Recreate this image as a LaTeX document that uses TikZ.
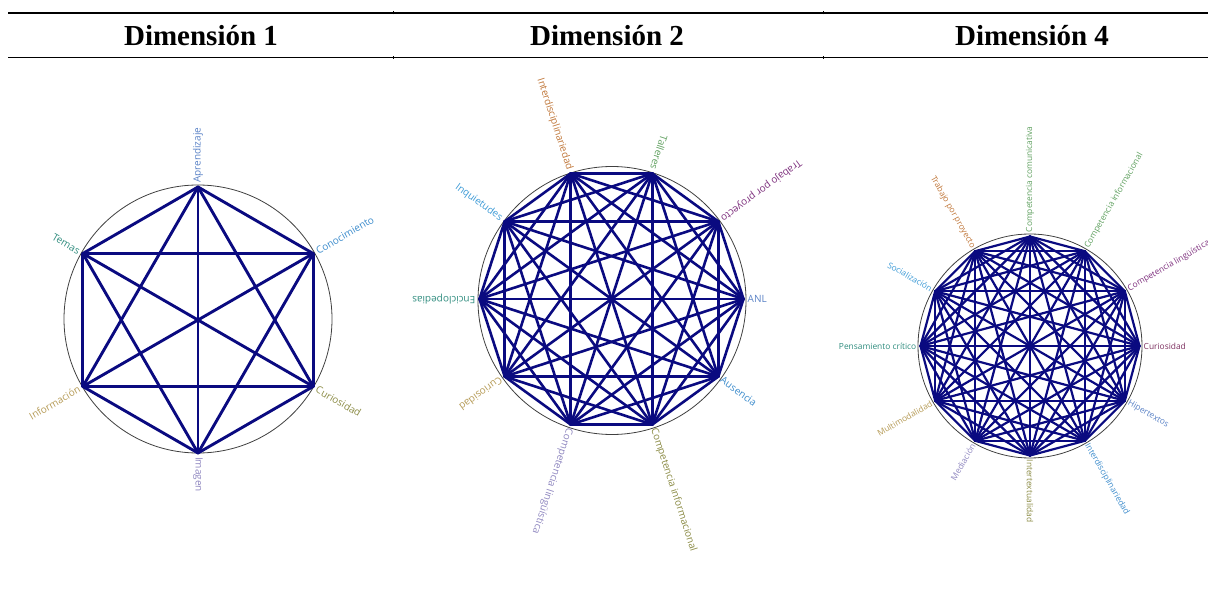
\documentclass[tikz,border=0pt]{standalone}
\usepackage{fontspec}
\setmainfont{Liberation Serif}
\newfontfamily\labelfont{Open Sans}

\definecolor{navyline}{RGB}{10,10,128}
\definecolor{cteal}{HTML}{2F8C7E}
\definecolor{csky}{HTML}{3C9AD6}
\definecolor{corange}{HTML}{C0773A}
\definecolor{cgreen}{HTML}{5FA05F}
\definecolor{cpurple}{HTML}{7D2F7D}
\definecolor{cmaroon}{HTML}{7D3060}
\definecolor{cblue}{HTML}{5A82C6}
\definecolor{cazure}{HTML}{3D8CCC}
\definecolor{colive}{HTML}{8B8B45}
\definecolor{clavender}{HTML}{8E86BF}
\definecolor{ctan}{HTML}{B59A55}

\tikzset{
    graphline/.style={navyline, line width=#1, line cap=round},
    ring/.style={black!75, line width=0.8pt},
    vlabel/.style={font=\labelfont\fontsize{#1}{12}\selectfont, inner sep=4pt},
    dimtitle/.style={font=\bfseries\fontsize{29}{34}\selectfont, anchor=base},
    rule/.style={line width=1.2pt}
}

\begin{document}
\begin{tikzpicture}[x=1pt,y=1pt]
    \useasboundingbox (0,0) rectangle (1208,606);

    % Encabezado
    \draw[rule] (8,593) -- (1208,593);
    \draw[rule] (8,548.5) -- (1208,548.5);
    \foreach \x in {393.5,823.5} {
        \draw[line width=1.5pt] (\x,591.5) -- (\x,594.5);
        \draw[line width=1.5pt] (\x,547) -- (\x,550);
    }
    \node[dimtitle] (t1) at (201,560.5) {Dimensión 1};
    \node[dimtitle] (t2) at (607,560.5) {Dimensión 2};
    \node[dimtitle] (t4) at (1032,560.5) {Dimensión 4};

    % Dimension 1
    \begin{scope}[shift={(198,286)}]
        \draw[ring] (0,1) circle (134);
        \foreach \i in {1,...,6}
            \coordinate (a\i) at ({90-60*(\i-1)}:133);
        \foreach \i in {1,...,5} {
            \pgfmathtruncatemacro\k{\i+1}
            \foreach \j in {\k,...,6}
                \draw[graphline=2.9pt] (a\i) -- (a\j);
        }
        \foreach \i/\rot/\anc/\col/\txt in {
            1/90/west/cblue/Aprendizaje,
            2/30/west/cazure/Conocimiento,
            3/-30/west/colive/Curiosidad,
            4/-90/west/clavender/Imagen,
            5/30/east/ctan/Información,
            6/-30/east/cteal/Temas}
            \node[vlabel=10, text=\col, rotate=\rot, anchor=\anc] (la\i) at (a\i) {\txt};
    \end{scope}

    % Dimension 2
    \begin{scope}[shift={(611.5,307)}]
        \draw[ring] (0.5,-1.5) circle (134);
        \foreach \i in {1,...,10}
            \coordinate (b\i) at ({-36*(\i-1)}:132);
        \foreach \i in {1,...,9} {
            \pgfmathtruncatemacro\k{\i+1}
            \foreach \j in {\k,...,10}
                \draw[graphline=2.6pt] (b\i) -- (b\j);
        }
        \foreach \i/\rot/\anc/\col/\txt in {
            1/0/west/cblue/ANL,
            2/-36/west/cazure/Ausencia,
            3/-72/west/colive/Competencia informacional,
            4/-108/west/clavender/Competencia lingüística,
            5/-144/west/ctan/Curiosidad,
            6/180/west/cteal/Enciclopedias,
            7/-36/east/csky/Inquietudes,
            8/-72/east/corange/Interdisciplinariedad,
            9/-108/east/cgreen/Talleres,
            10/-144/east/cpurple/Trabajo por proyecto}
            \node[vlabel=10, text=\col, rotate=\rot, anchor=\anc] (lb\i) at (b\i) {\txt};
    \end{scope}

    % Dimension 4
    \begin{scope}[shift={(1030,260)}]
        \draw[ring] (0,0) circle (112);
        \foreach \i in {1,...,12}
            \coordinate (c\i) at ({90-30*(\i-1)}:109.5);
        \foreach \i in {1,...,11} {
            \pgfmathtruncatemacro\k{\i+1}
            \foreach \j in {\k,...,12}
                \draw[graphline=2.2pt] (c\i) -- (c\j);
        }
        \foreach \i/\rot/\anc/\col/\txt in {
            1/90/west/cgreen/Competencia comunicativa,
            2/60/west/cgreen/Competencia informacional,
            3/30/west/cpurple/Competencia lingüística,
            4/0/west/cmaroon/Curiosidad,
            5/-30/west/cblue/Hipertextos,
            6/-60/west/cazure/Interdisciplinariedad,
            7/-90/west/colive/Intertextualidad,
            8/60/east/clavender/Mediación,
            9/30/east/ctan/Multimodalidad,
            10/0/east/cteal/Pensamiento crítico,
            11/-30/east/csky/Socialización,
            12/-60/east/corange/Trabajo por proyecto}
            \node[vlabel=8.4, text=\col, rotate=\rot, anchor=\anc] (lc\i) at (c\i) {\txt};
    \end{scope}
\end{tikzpicture}
\end{document}
